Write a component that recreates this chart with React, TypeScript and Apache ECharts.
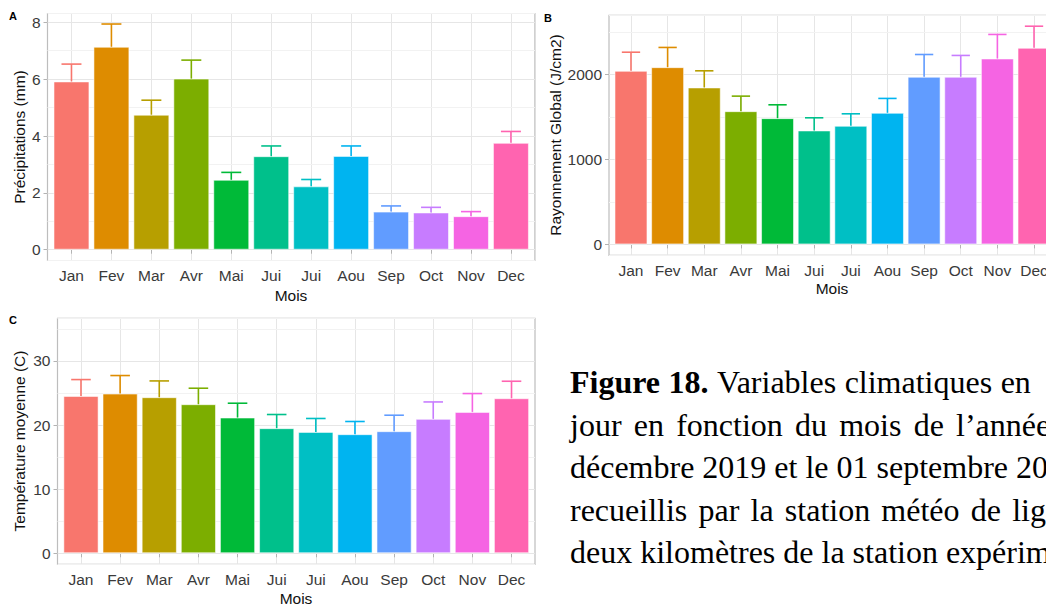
import React, { useEffect, useRef } from "react";
import * as echarts from "echarts";

const months = ["Jan", "Fev", "Mar", "Avr", "Mai", "Jui", "Jui", "Aou", "Sep", "Oct", "Nov", "Dec"];
const barColors = ["#F8766D", "#DE8C00", "#B79F00", "#7CAE00", "#00BA38", "#00C08B", "#00BFC4", "#00B4F0", "#619CFF", "#C77CFF", "#F564E3", "#FF64B0"];

const precipMean = [5.92, 7.14, 4.75, 6.02, 2.46, 3.29, 2.23, 3.3, 1.34, 1.31, 1.18, 3.76];
const precipUpper = [6.53, 7.94, 5.26, 6.67, 2.72, 3.65, 2.47, 3.65, 1.54, 1.49, 1.34, 4.16];
const radMean = [2043, 2086, 1847, 1568, 1486, 1341, 1396, 1549, 1973, 1973, 2188, 2314];
const radUpper = [2262, 2318, 2043, 1745, 1643, 1490, 1537, 1718, 2235, 2224, 2471, 2568];
const tempMean = [24.55, 24.92, 24.35, 23.26, 21.18, 19.52, 18.94, 18.58, 19.05, 20.97, 22.06, 24.19];
const tempUpper = [27.1, 27.73, 26.89, 25.75, 23.41, 21.65, 21.03, 20.56, 21.54, 23.61, 24.92, 26.84];

const yTicksA = [0, 2, 4, 6, 8];
const yTicksB = [0, 1000, 2000];
const yTicksC = [0, 10, 20, 30];

// caption lines (bold prefix, regular text, extra justification space per gap)
const captionBold = ["Figure 18.", "", "", "", ""];
const captionText = [
  "Variables climatiques en",
  "jour en fonction du mois de l’année",
  "décembre 2019 et le 01 septembre 20",
  "recueillis par la station météo de lig",
  "deux kilomètres de la station expérim",
];
const captionExtraGap = [0.5, 4.2, 0, 3.2, 0];

const SANS = "'Liberation Sans', Arial, sans-serif";
const SERIF = "'Liberation Serif', 'Times New Roman', serif";
const TICK_COLOR = "#3a3a3a";
const TITLE_COLOR = "#111";
const MAJOR = "#E6E6E6";
const MINOR = "#F2F2F2";
const BORDER = "#BDBDBD";
const FS = 15.5;
const CAP_FS = 32;

type Panel = {
  letter: string;
  left: number; top: number; width: number; height: number;
  ymin: number; ymax: number; major: number; ticks: number[];
  mean: number[]; upper: number[];
  yTitle: string; yTitlePos: [number, number]; moisPos: [number, number]; letterPos: [number, number];
};

const panels: Panel[] = [
  {
    letter: "A", left: 47.5, top: 13.5, width: 487.4, height: 247,
    ymin: -0.38, ymax: 8.31, major: 2, ticks: yTicksA, mean: precipMean, upper: precipUpper,
    yTitle: "Précipitations (mm)", yTitlePos: [19, 137], moisPos: [291, 295], letterPos: [13, 16],
  },
  {
    letter: "B", left: 609, top: 15.3, width: 447, height: 240,
    ymin: -128.4, ymax: 2696.4, major: 1000, ticks: yTicksB, mean: radMean, upper: radUpper,
    yTitle: "Rayonnement Global (J/cm2)", yTitlePos: [555, 135], moisPos: [832, 288], letterPos: [548, 18],
  },
  {
    letter: "C", left: 57.5, top: 318.3, width: 477.5, height: 246,
    ymin: -1.72, ymax: 36.66, major: 10, ticks: yTicksC, mean: tempMean, upper: tempUpper,
    yTitle: "Température moyenne (C)", yTitlePos: [19, 441], moisPos: [296, 598], letterPos: [13, 320],
  },
];

function measure(ctx: CanvasRenderingContext2D | null, text: string, bold: boolean) {
  if (!ctx) return text.length * CAP_FS * 0.45;
  ctx.font = `${bold ? "bold " : ""}${CAP_FS}px ${SERIF}`;
  return ctx.measureText(text).width;
}

function buildCaption(): any[] {
  const canvas = document.createElement("canvas");
  const ctx = canvas.getContext("2d");
  const out: any[] = [];
  const space = measure(ctx, " ", false);
  captionText.forEach((line, li) => {
    const y = 382 + li * 42.6;
    const words: { t: string; b: boolean }[] = [];
    if (captionBold[li]) captionBold[li].split(" ").forEach((w) => words.push({ t: w, b: true }));
    line.split(" ").forEach((w) => words.push({ t: w, b: false }));
    let x = 570;
    words.forEach((w) => {
      out.push({
        type: "text", x, y,
        style: {
          text: w.t, fontSize: CAP_FS, fontFamily: SERIF, fontWeight: w.b ? "bold" : "normal", fill: "#000",
          align: "left", verticalAlign: "middle", textAlign: "left", textVerticalAlign: "middle",
        },
      });
      x += measure(ctx, w.t, w.b) + space + captionExtraGap[li];
    });
  });
  return out;
}

function buildOption() {
  const xPositions = months.map((_, i) => i + 1);
  const grid: any[] = [];
  const xAxis: any[] = [];
  const yAxis: any[] = [];
  const series: any[] = [];
  const graphic: any[] = [];

  panels.forEach((p, pi) => {
    const spacing = p.width / 12.2;
    grid.push({
      left: p.left, top: p.top, width: p.width, height: p.height,
      show: true, borderColor: BORDER, borderWidth: 1.2, backgroundColor: "transparent",
      containLabel: false, outerBoundsMode: "none",
    });
    xAxis.push({
      type: "value", gridIndex: pi, min: 0.4, max: 12.6, minInterval: 1, maxInterval: 1,
      axisLine: { show: false },
      axisTick: { show: true, length: 4, customValues: xPositions, lineStyle: { color: "#B3B3B3" } },
      axisLabel: {
        customValues: xPositions,
        formatter: (v: number) => months[Math.round(v) - 1] ?? "",
        fontSize: FS, fontFamily: SANS, color: TICK_COLOR, margin: 7,
      },
      splitLine: { show: true, lineStyle: { color: MAJOR, width: 1 } },
    });
    yAxis.push({
      type: "value", gridIndex: pi, min: p.ymin, max: p.ymax,
      minInterval: p.major / 2, maxInterval: p.major / 2, position: "left", z: 1,
      axisLine: { show: false }, axisTick: { show: false }, axisLabel: { show: false },
      splitLine: { show: true, lineStyle: { color: MINOR, width: 1 } },
    });
    yAxis.push({
      type: "value", gridIndex: pi, min: p.ymin, max: p.ymax,
      minInterval: p.major, maxInterval: p.major, position: "left", z: 2,
      axisLine: { show: false },
      axisTick: { show: true, length: 4, customValues: p.ticks, lineStyle: { color: "#B3B3B3" } },
      axisLabel: {
        customValues: p.ticks,
        formatter: (v: number) => String(v),
        fontSize: FS, fontFamily: SANS, color: TICK_COLOR, margin: 7,
      },
      splitLine: { show: true, lineStyle: { color: MAJOR, width: 1 } },
    });
    series.push({
      type: "bar", xAxisIndex: pi, yAxisIndex: pi * 2 + 1, barWidth: spacing * 0.9, z: 3,
      itemStyle: { borderColor: "rgba(255,255,255,0.55)", borderWidth: 1 },
      data: p.mean.map((v, i) => ({ value: [i + 1, v], itemStyle: { color: barColors[i] } })),
    });
    series.push({
      type: "custom", xAxisIndex: pi, yAxisIndex: pi * 2 + 1, z: 4,
      encode: { x: 0, y: [1, 2] },
      data: p.mean.map((v, i) => [i + 1, v, p.upper[i]]),
      renderItem: (params: any, api: any) => {
        const x = api.value(0);
        const p0 = api.coord([x, api.value(1)]);
        const p1 = api.coord([x, api.value(2)]);
        const w = api.size([0.5, 0])[0];
        const color = barColors[params.dataIndex];
        const st = { stroke: color, lineWidth: 1.6, fill: "none" };
        return {
          type: "group",
          children: [
            { type: "line", shape: { x1: p0[0], y1: p0[1], x2: p1[0], y2: p1[1] }, style: st },
            { type: "line", shape: { x1: p1[0] - w / 2, y1: p1[1], x2: p1[0] + w / 2, y2: p1[1] }, style: st },
          ],
        };
      },
    });

    graphic.push({
      type: "text", x: p.letterPos[0], y: p.letterPos[1],
      style: { text: p.letter, fontSize: 11, fontWeight: "bold", fontFamily: SANS, fill: "#000", align: "center", verticalAlign: "middle", textAlign: "center", textVerticalAlign: "middle" },
    });
    graphic.push({
      type: "text", x: p.yTitlePos[0], y: p.yTitlePos[1], rotation: Math.PI / 2,
      style: { text: p.yTitle, fontSize: FS, fontFamily: SANS, fill: TITLE_COLOR, align: "center", verticalAlign: "middle", textAlign: "center", textVerticalAlign: "middle" },
    });
    graphic.push({
      type: "text", x: p.moisPos[0], y: p.moisPos[1],
      style: { text: "Mois", fontSize: FS, fontFamily: SANS, fill: TITLE_COLOR, align: "center", verticalAlign: "middle", textAlign: "center", textVerticalAlign: "middle" },
    });
  });

  buildCaption().forEach((g) => graphic.push(g));

  return {
    animation: false,
    backgroundColor: "#ffffff",
    grid, xAxis, yAxis, series, graphic,
  };
}

export default function App() {
  const ref = useRef<HTMLDivElement>(null);
  useEffect(() => {
    if (!ref.current) return;
    const chart = echarts.init(ref.current, null, { renderer: "svg" });
    chart.setOption(buildOption() as any);
    return () => chart.dispose();
  }, []);
  return (
    <div
      ref={ref}
      style={{ position: "fixed", left: 0, top: 0, width: 1046, height: 605, background: "#fff" }}
    />
  );
}
